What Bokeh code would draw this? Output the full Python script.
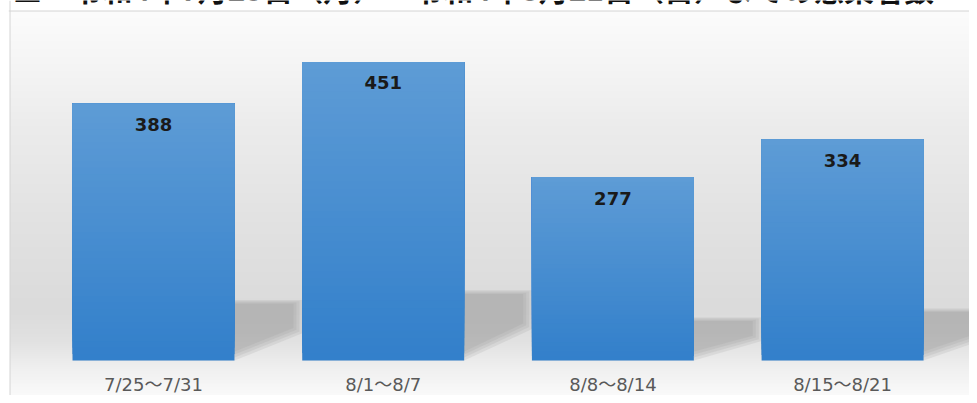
import numpy as np
from bokeh.plotting import figure
from bokeh.models import Range1d, Label, Span
from bokeh.core.properties import value
from bokeh.embed import file_html
from bokeh.resources import INLINE

# ---- data ----
categories = ["7/25～7/31", "8/1～8/7", "8/8～8/14", "8/15～8/21"]
cases = [388, 451, 277, 334]
title_text = "■　令和4年7月25日（月）～令和4年8月21日（日）までの感染者数"

# ---- layout (frame covers canvas from x=8, y=0) ----
W, H = 969, 395
x_lo, x_hi = -0.6313, 3.5525
y_lo, y_hi = -52.9, 543.8
box_top = 527.9       # y of the chart-box top border
box_left = -0.6247    # x of the chart-box left border
bar_w = 0.705
XPX = 1 / 229.7       # data units per pixel (x)
YPX = 1 / 0.662       # data units per pixel (y)
JP = "Noto Sans CJK JP"
LAT = "'DejaVu Sans', 'Noto Sans CJK JP'"

p = figure(width=W, height=H, x_range=Range1d(x_lo, x_hi), y_range=Range1d(y_lo, y_hi),
           output_backend="svg", toolbar_location=None,
           x_axis_location=None, y_axis_location=None,
           min_border_left=8, min_border_right=0, min_border_top=0, min_border_bottom=0)
p.grid.visible = False
p.outline_line_color = None
p.border_fill_color = "white"
p.background_fill_color = "white"

# ---- background vertical gradient inside the chart box ----
N = 400
ys_data = np.linspace(y_lo, box_top, N)
frac = (ys_data - y_lo) / (box_top - y_lo)          # 0 bottom .. 1 top
stops_f = [0.0, 0.07, 0.14, 0.22, 0.45, 0.7, 0.88, 1.0]
stops_g = [250, 240, 226, 219, 226, 236, 246, 252]
g = np.interp(frac, stops_f, stops_g).astype(np.uint8)
img = np.empty((N, 1), dtype=np.uint32)
view = img.view(dtype=np.uint8).reshape((N, 1, 4))
view[:, 0, 0] = g
view[:, 0, 1] = g
view[:, 0, 2] = g
view[:, 0, 3] = 255
p.image_rgba(image=[img], x=box_left, y=y_lo, dw=x_hi - box_left, dh=box_top - y_lo)

p.add_layout(Span(location=box_top, dimension="width", line_color="#d4d4d4", line_width=1))
p.add_layout(Span(location=box_left, dimension="height", line_color="#d4d4d4", line_width=1))

# ---- soft floor shadows (several inset layers for a blurred look) ----
idx = list(range(len(categories)))
dx = 68 * XPX
for d, alpha in [(0, 0.15), (3, 0.15), (6, 0.15), (9, 0.15)]:
    sh_xs, sh_ys = [], []
    for i, v in zip(idx, cases):
        x0, x1 = i - bar_w / 2, i + bar_w / 2
        top = 0.235 * v - d * YPX * 0.4
        mid = 0.45 * 0.235 * v + d * YPX * 0.6
        xr = x1 + dx - d * XPX
        sh_xs.append([x0, x1, xr, xr, x0])
        sh_ys.append([d * YPX, d * YPX, mid, top, top])
    p.patches(xs=sh_xs, ys=sh_ys, fill_color="#8a8a8a", fill_alpha=alpha, line_color=None)

# ---- bars with vertical gradient (overlapping layers, no seams) ----
S = 40
c_bot = np.array([0x33, 0x80, 0xcb])
c_top = np.array([0x5e, 0x9c, 0xd6])
bx, bb, bt, bc = [], [], [], []
for k in range(S):
    f = k / (S - 1)
    c = (c_bot + (c_top - c_bot) * f).astype(int)
    col = "#%02x%02x%02x" % tuple(c)
    for i, v in zip(idx, cases):
        bx.append(i)
        bb.append(v * k / S)
        bt.append(v)
        bc.append(col)
p.vbar(x=bx, bottom=bb, top=bt, width=bar_w, fill_color=bc, line_color=None)

# ---- value labels ----
p.text(x=idx, y=cases, text=[str(v) for v in cases], text_align="center",
       text_baseline="middle", y_offset=21, text_font=value(LAT),
       text_font_style="bold", text_font_size="18px", text_color="#1a1a1a")

# ---- category labels ----
p.text(x=idx, y=[-36.3] * len(idx), text=categories, text_align="center",
       text_baseline="middle", text_font=value(LAT), text_font_size="18px",
       text_color="#595959")

# ---- title (clipped at the top as in the reference) ----
p.add_layout(Label(x=-0.614, y=596.5, text=title_text, text_align="left",
                   text_baseline="top", text_font=JP, text_font_style="bold",
                   text_font_size="30px", text_color="#111111"))

open("out.html", "w").write(file_html(p, INLINE))
